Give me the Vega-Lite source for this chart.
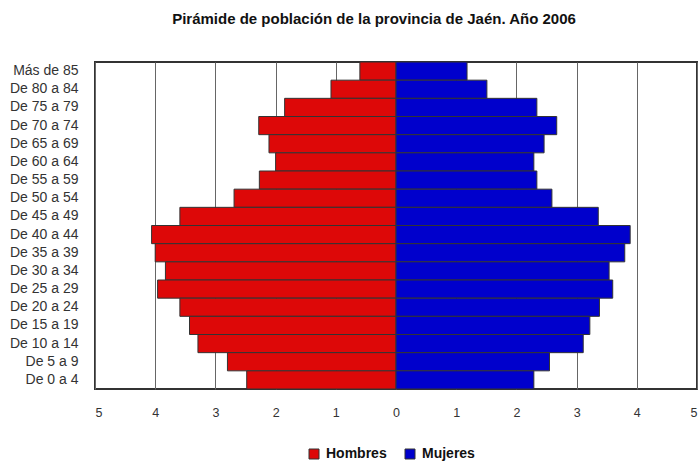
{
  "$schema": "https://vega.github.io/schema/vega-lite/v6.json",
  "autosize": "none",
  "width": 602,
  "height": 327,
  "padding": {"left": 95, "top": 62, "right": 3, "bottom": 72},
  "background": "white",
  "title": {
    "text": "Pirámide de población de la provincia de Jaén. Año 2006",
    "font": "Liberation Sans",
    "fontSize": 15,
    "fontWeight": "bold",
    "color": "#111",
    "anchor": "middle",
    "dx": -22,
    "offset": 35
  },
  "config": {
    "view": {"stroke": "#333", "strokeWidth": 2},
    "font": "Liberation Sans"
  },
  "data": {
    "values": [
      {"grupo": "Más de 85", "sexo": "Hombres", "valor": -0.6},
      {"grupo": "De 80 a 84", "sexo": "Hombres", "valor": -1.08},
      {"grupo": "De 75 a 79", "sexo": "Hombres", "valor": -1.85},
      {"grupo": "De 70 a 74", "sexo": "Hombres", "valor": -2.28},
      {"grupo": "De 65 a 69", "sexo": "Hombres", "valor": -2.11},
      {"grupo": "De 60 a 64", "sexo": "Hombres", "valor": -2.0},
      {"grupo": "De 55 a 59", "sexo": "Hombres", "valor": -2.27},
      {"grupo": "De 50 a 54", "sexo": "Hombres", "valor": -2.69},
      {"grupo": "De 45 a 49", "sexo": "Hombres", "valor": -3.59},
      {"grupo": "De 40 a 44", "sexo": "Hombres", "valor": -4.06},
      {"grupo": "De 35 a 39", "sexo": "Hombres", "valor": -4.0},
      {"grupo": "De 30 a 34", "sexo": "Hombres", "valor": -3.83},
      {"grupo": "De 25 a 29", "sexo": "Hombres", "valor": -3.96},
      {"grupo": "De 20 a 24", "sexo": "Hombres", "valor": -3.59},
      {"grupo": "De 15 a 19", "sexo": "Hombres", "valor": -3.43},
      {"grupo": "De 10 a 14", "sexo": "Hombres", "valor": -3.29},
      {"grupo": "De 5 a 9", "sexo": "Hombres", "valor": -2.8},
      {"grupo": "De 0 a 4", "sexo": "Hombres", "valor": -2.48},
      {"grupo": "Más de 85", "sexo": "Mujeres", "valor": 1.18},
      {"grupo": "De 80 a 84", "sexo": "Mujeres", "valor": 1.51},
      {"grupo": "De 75 a 79", "sexo": "Mujeres", "valor": 2.34},
      {"grupo": "De 70 a 74", "sexo": "Mujeres", "valor": 2.67},
      {"grupo": "De 65 a 69", "sexo": "Mujeres", "valor": 2.46},
      {"grupo": "De 60 a 64", "sexo": "Mujeres", "valor": 2.29},
      {"grupo": "De 55 a 59", "sexo": "Mujeres", "valor": 2.34},
      {"grupo": "De 50 a 54", "sexo": "Mujeres", "valor": 2.59},
      {"grupo": "De 45 a 49", "sexo": "Mujeres", "valor": 3.36},
      {"grupo": "De 40 a 44", "sexo": "Mujeres", "valor": 3.89},
      {"grupo": "De 35 a 39", "sexo": "Mujeres", "valor": 3.8},
      {"grupo": "De 30 a 34", "sexo": "Mujeres", "valor": 3.54},
      {"grupo": "De 25 a 29", "sexo": "Mujeres", "valor": 3.6},
      {"grupo": "De 20 a 24", "sexo": "Mujeres", "valor": 3.38},
      {"grupo": "De 15 a 19", "sexo": "Mujeres", "valor": 3.22},
      {"grupo": "De 10 a 14", "sexo": "Mujeres", "valor": 3.11},
      {"grupo": "De 5 a 9", "sexo": "Mujeres", "valor": 2.55},
      {"grupo": "De 0 a 4", "sexo": "Mujeres", "valor": 2.29}
    ]
  },
  "mark": {"type": "bar", "stroke": "#333", "strokeWidth": 1},
  "encoding": {
    "y": {
      "field": "grupo",
      "type": "nominal",
      "sort": ["Más de 85", "De 80 a 84", "De 75 a 79", "De 70 a 74", "De 65 a 69", "De 60 a 64", "De 55 a 59", "De 50 a 54", "De 45 a 49", "De 40 a 44", "De 35 a 39", "De 30 a 34", "De 25 a 29", "De 20 a 24", "De 15 a 19", "De 10 a 14", "De 5 a 9", "De 0 a 4"],
      "scale": {"paddingInner": 0, "paddingOuter": 0},
      "axis": {
        "title": null,
        "ticks": false,
        "domain": false,
        "labelPadding": 17,
        "labelFontSize": 14,
        "labelColor": "#333",
        "labelFont": "Liberation Sans"
      }
    },
    "x": {
      "field": "valor",
      "type": "quantitative",
      "scale": {"domain": [-5, 5], "nice": false, "zero": false},
      "axis": {
        "title": null,
        "values": [-5, -4, -3, -2, -1, 0, 1, 2, 3, 4, 5],
        "labelExpr": "abs(datum.value)",
        "ticks": false,
        "domain": false,
        "grid": true,
        "gridColor": "#666",
        "gridWidth": 1,
        "gridOpacity": 1,
        "labelPadding": 17,
        "labelFontSize": 12.5,
        "labelColor": "#333",
        "labelFont": "Liberation Sans"
      }
    },
    "color": {
      "field": "sexo",
      "type": "nominal",
      "scale": {"domain": ["Hombres", "Mujeres"], "range": ["#dd0808", "#0000cc"]},
      "legend": {
        "title": null,
        "orient": "none",
        "direction": "horizontal",
        "legendX": 212,
        "legendY": 385,
        "symbolType": "square",
        "symbolSize": 100,
        "symbolStrokeColor": "#333",
        "symbolStrokeWidth": 1,
        "labelFontSize": 14,
        "labelFontWeight": "bold",
        "labelColor": "#111",
        "labelFont": "Liberation Sans",
        "columnPadding": 16,
        "labelOffset": 5
      }
    }
  }
}
